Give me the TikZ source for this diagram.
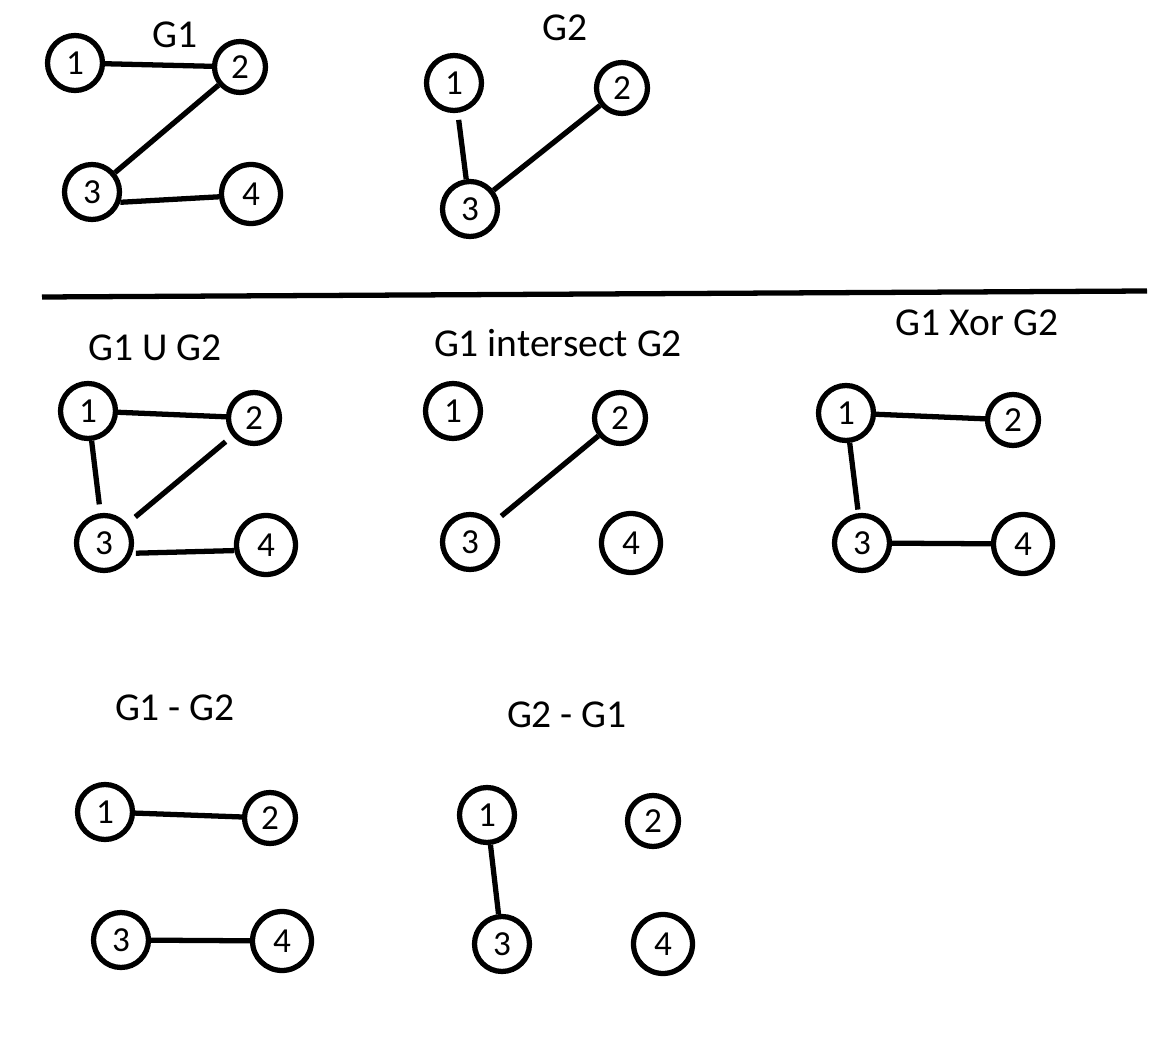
\documentclass[tikz,border=0pt]{standalone}
\usepackage{fontspec}
\setmainfont{Carlito}
\begin{document}
\begin{tikzpicture}[x=0.02cm,y=-0.02cm,
  vtx/.style={circle,draw,line width=3pt,minimum size=1.1cm,inner sep=0pt,font=\fontsize{20}{20}\selectfont},
  vsm/.style={vtx,minimum size=1.02cm},
  vbg/.style={vtx,minimum size=1.18cm},
  edge/.style={line width=3pt},
  ttl/.style={font=\fontsize{22.5}{22.5}\selectfont}]
\useasboundingbox (0,0) rectangle (1154,1054);
% G1
\node[ttl] (t1) at (175,35) {G1};
\node[vtx] (a1) at (75,63) {1};
\node[vsm] (a2) at (240,67) {2};
\node[vtx] (a3) at (92,192) {3};
\node[vbg] (a4) at (251,194) {4};
\draw[edge] (a1) -- (a2);
\draw[edge] (a2) -- (a3);
\draw[edge] (a3.-20) -- (a4.-175);
% G2
\node[ttl] (t2) at (565,28) {G2};
\node[vtx] (b1) at (454,83) {1};
\node[vsm] (b2) at (622,88) {2};
\node[vtx] (b3) at (470,209) {3};
\draw[edge,shorten <=4pt] (b1) -- (b3);
\draw[edge] (b2) -- (b3);
% separator
\coordinate (s1) at (42,297);
\coordinate (s2) at (1147,291);
\draw[edge] (s1) -- (s2);
% Union
\node[ttl] (t3) at (155,348) {G1 U G2};
\node[vtx] (c1) at (88,411) {1};
\node[vsm] (c2) at (254,418) {2};
\node[vtx] (c3) at (104,543) {3};
\node[vbg] (c4) at (266,545) {4};
\draw[edge] (c1) -- (c2);
\draw[edge,shorten >=5pt] (c1) -- (c3);
\draw[edge,shorten <=5pt,shorten >=6pt] (c2) -- (c3);
\draw[edge,shorten <=2pt] (c3.-20) -- (c4.-170);
% Intersect
\node[ttl] (t4) at (558,343) {G1 intersect G2};
\node[vtx] (d1) at (453,411) {1};
\node[vsm] (d2) at (620,418) {2};
\node[vtx] (d3) at (470,542) {3};
\node[vbg] (d4) at (631,543) {4};
\draw[edge,shorten >=6pt] (d2) -- (d3);
% Xor
\node[ttl] (t5) at (977,323) {G1 Xor G2};
\node[vtx] (e1) at (846,413) {1};
\node[vsm] (e2) at (1013,420) {2};
\node[vtx] (e3) at (862,543) {3};
\node[vbg] (e4) at (1023,544) {4};
\draw[edge] (e1) -- (e2);
\draw[edge,shorten >=2pt] (e1) -- (e3);
\draw[edge] (e3) -- (e4);
% G1 - G2
\node[ttl] (t6) at (175,708) {G1 - G2};
\node[vtx] (f1) at (105,812) {1};
\node[vsm] (f2) at (270,818) {2};
\node[vtx] (f3) at (121,940) {3};
\node[vbg] (f4) at (282,941) {4};
\draw[edge] (f1) -- (f2);
\draw[edge] (f3) -- (f4);
% G2 - G1
\node[ttl] (t7) at (567,715) {G2 - G1};
\node[vtx] (g1) at (487,815) {1};
\node[vsm] (g2) at (653,821) {2};
\node[vtx] (g3) at (502,944) {3};
\node[vbg] (g4) at (663,944) {4};
\draw[edge] (g1) -- (g3);
\end{tikzpicture}
\end{document}
